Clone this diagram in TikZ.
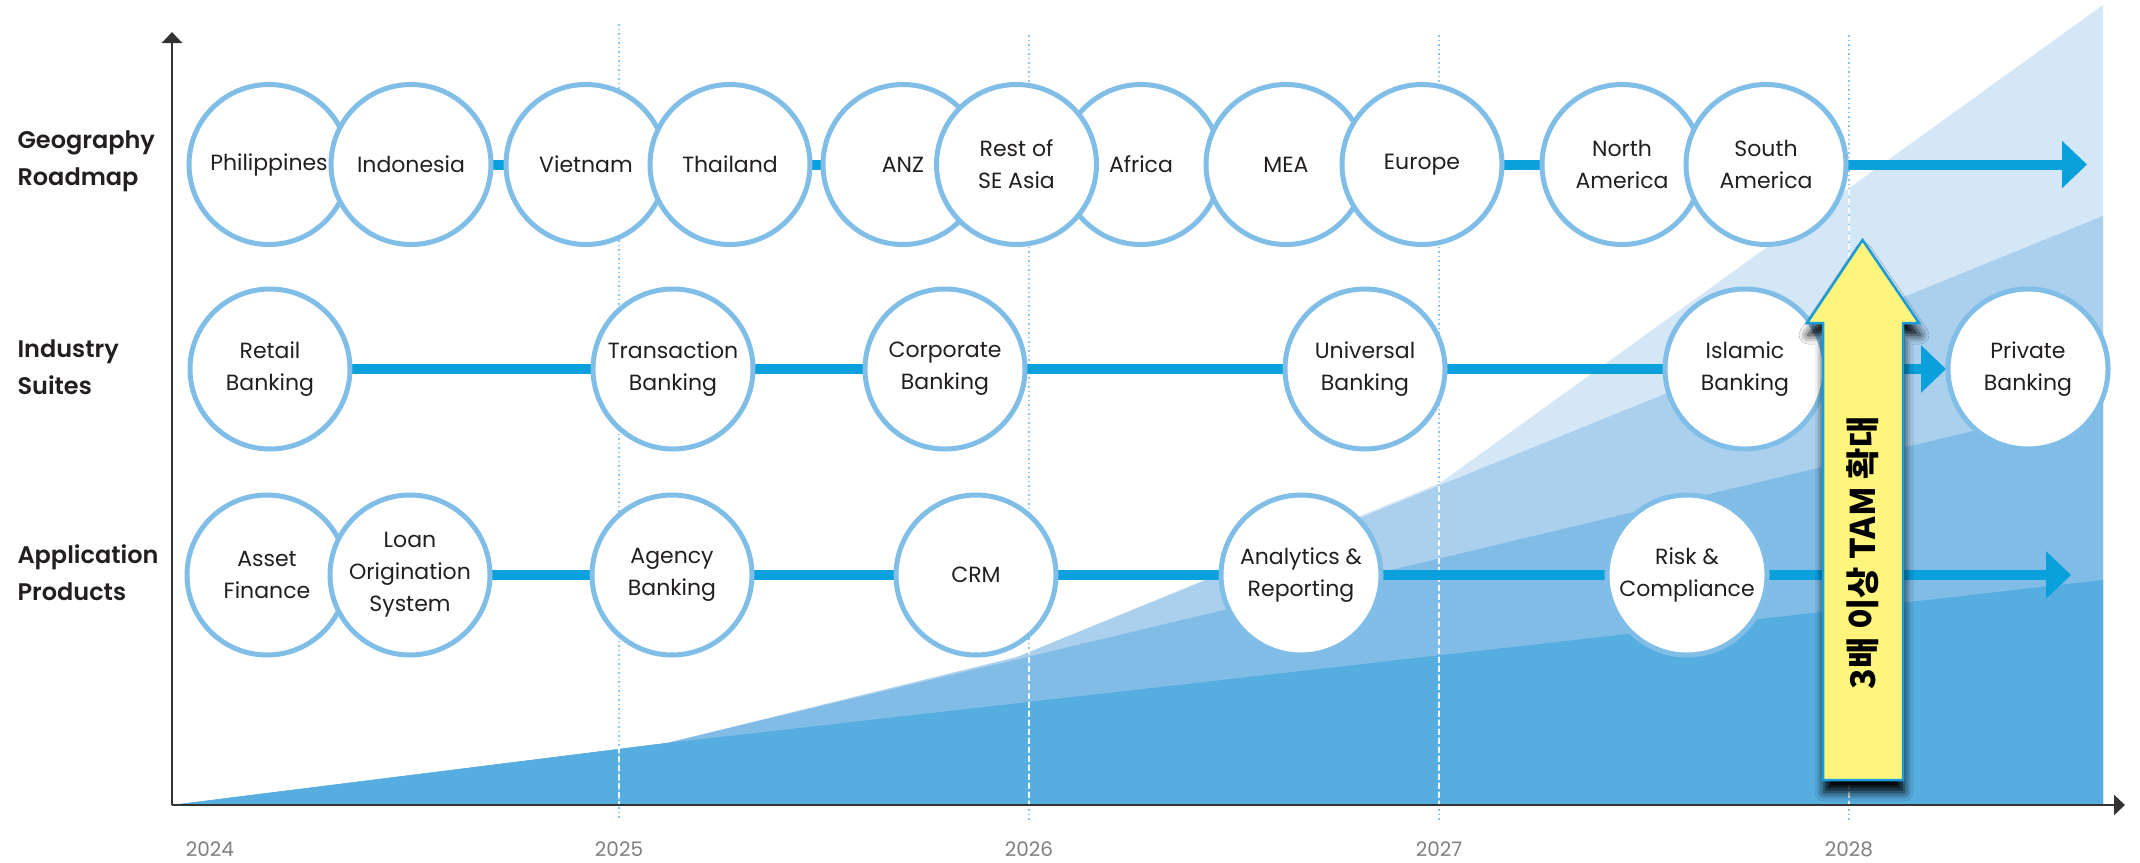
\documentclass[tikz,border=0pt]{standalone}
\usepackage{fontspec}
\setmainfont{Poppins}
\newfontfamily\labfont{Poppins SemiBold}
\newfontfamily\kofont{Noto Sans CJK KR}
\usetikzlibrary{arrows.meta,shadows.blur}
\definecolor{cbl}{HTML}{0AA0DC}
\definecolor{cring}{HTML}{80BEE8}
\definecolor{aone}{HTML}{D4E7F6}
\definecolor{atwo}{HTML}{AAD0ED}
\definecolor{athree}{HTML}{80BCE6}
\definecolor{afour}{HTML}{56AEE0}
\definecolor{txt}{HTML}{231F20}
\definecolor{yel}{HTML}{FFF57C}
\definecolor{ybord}{HTML}{1B9BD7}
\definecolor{axc}{HTML}{333333}
\definecolor{yrc}{HTML}{7F7F7F}
\definecolor{ylc}{HTML}{8DC4EC}
\tikzset{
  bub/.style={circle, draw=cring, line width=5pt, fill=white, minimum size=160pt,
    inner sep=0pt, align=center, font=\fontsize{22}{32}\selectfont, text=txt},
  conn/.style={draw=cbl, line width=10pt},
  connarr/.style={conn, -{Triangle[length=25pt,width=46pt]}},
  lab/.style={anchor=west, align=left, font=\labfont\fontsize{24}{37}\selectfont, text=txt},
  yr/.style={font=\fontsize{20}{24}\selectfont, text=yrc},
  yline/.style={draw=ylc, line width=1.5pt, dash pattern=on 1.5pt off 3pt},
  wline/.style={draw=white, line width=1.5pt, dash pattern=on 6pt off 3pt, opacity=0.9},
  axis/.style={draw=axc, line width=2.5pt},
}
\begin{document}
\begin{tikzpicture}[x=1pt,y=-1pt]
\useasboundingbox (0,0) rectangle (2140,862);
% growth areas
\fill[aone] (172,805) -- (667,743) -- (1017,657) -- (1440,483) -- (2103,5) -- (2103,805) -- cycle;
\fill[atwo] (172,805) -- (667,743) -- (1017,657) -- (2103,216) -- (2103,805) -- cycle;
\fill[athree] (172,805) -- (667,743) -- (2103,400) -- (2103,805) -- cycle;
\fill[afour] (172,805) -- (667,743) -- (2103,580) -- (2103,805) -- cycle;
% year lines
\draw[yline] (619,24) -- (619,820);
\draw[yline] (1029,35) -- (1029,820);
\draw[yline] (1439,35) -- (1439,820);
\draw[yline] (1849,35) -- (1849,820);
\begin{scope}
\clip (172,805) -- (667,743) -- (1017,657) -- (1440,483) -- (2103,5) -- (2103,805) -- cycle;
\draw[wline] (619,0) -- (619,805);
\draw[wline] (1029,0) -- (1029,805);
\draw[wline] (1439,0) -- (1439,805);
\draw[wline] (1849,0) -- (1849,805);
\end{scope}
% axes
\draw[axis, -{Triangle[length=11pt,width=20pt]}] (172,805) -- (2125,805);
\draw[axis, -{Triangle[length=11pt,width=20pt]}] (172,805) -- (172,32);
% years
\node[yr] (y24) at (210,849) {2024};
\node[yr] (y25) at (619,849) {2025};
\node[yr] (y26) at (1029,849) {2026};
\node[yr] (y27) at (1439,849) {2027};
\node[yr] (y28) at (1849,849) {2028};
% row labels
\node[lab] (l1) at (14,161) {Geography\\Roadmap};
\node[lab] (l2) at (14,367) {Industry\\Suites};
\node[lab] (l3) at (14,573) {Application\\Products};
% end coordinates
\coordinate (geoend) at (2087,164.5);
\coordinate (append) at (2071,575);
% row 1 positions for connectors
\path (411,164.5) coordinate (pindo) (586,164.5) coordinate (pviet)
      (730,164.5) coordinate (pthai) (903,164.5) coordinate (panz)
      (1422,164.5) coordinate (peur) (1622,164.5) coordinate (pnam)
      (1766,164.5) coordinate (psam);
\draw[conn] (pindo) -- (pviet);
\draw[conn] (pthai) -- (panz);
\draw[conn] (peur) -- (pnam);
\draw[connarr] (psam) -- (geoend);
% row 2 and 3 positions
\path (270,369) coordinate (pret) (673,369) coordinate (ptra) (945,369) coordinate (pcor)
      (1365,369) coordinate (puni) (1745,369) coordinate (pisl) (2028,369) coordinate (ppri);
\path (267,575) coordinate (pass) (410,575) coordinate (ploa) (672,575) coordinate (page)
      (976,575) coordinate (pcrm) (1301,575) coordinate (pana) (1687,575) coordinate (prisk);
\coordinate (pend2) at (1946,369);
\draw[conn] (pret) -- (puni);
\draw[conn] (puni) -- (pisl);
\draw[connarr] (pisl) -- (pend2);
\draw[conn] (ploa) -- (prisk);
\draw[connarr] (prisk) -- (append);
% row 1 bubbles
\node[bub] (phil) at (269,164.5) {Philippines};
\node[bub] (indo) at (pindo) {Indonesia};
\node[bub] (viet) at (pviet) {Vietnam};
\node[bub] (thai) at (pthai) {Thailand};
\node[bub] (anz) at (panz) {ANZ};
\node[bub] (afr) at (1141,164.5) {Africa};
\node[bub] (rest) at (1016.5,164.5) {Rest of\\SE Asia};
\node[bub] (mea) at (1286,164.5) {MEA};
\node[bub] (eur) at (peur) {Europe};
\node[bub] (nam) at (pnam) {North\\America};
\node[bub] (sam) at (psam) {South\\America};
% row 2 bubbles
\node[bub] (ret) at (pret) {Retail\\Banking};
\node[bub] (tra) at (ptra) {Transaction\\Banking};
\node[bub] (cor) at (pcor) {Corporate\\Banking};
\node[bub] (uni) at (puni) {Universal\\Banking};
\node[bub] (isl) at (pisl) {Islamic\\Banking};
\node[bub] (pri) at (ppri) {Private\\Banking};
% row 3 bubbles
\node[bub] (ass) at (pass) {Asset\\Finance};
\node[bub] (loa) at (ploa) {Loan\\Origination\\System};
\node[bub] (age) at (page) {Agency\\Banking};
\node[bub] (crm) at (pcrm) {CRM};
\node[bub] (ana) at (pana) {Analytics \&\\Reporting};
\node[bub] (risk) at (prisk) {Risk \&\\Compliance};
% yellow arrow
\path[fill=yel, draw=ybord, line width=2.5pt, line join=miter,
  blur shadow={shadow xshift=1pt, shadow yshift=-12pt, shadow blur radius=9pt,
    shadow opacity=100}]
  (1823,780) -- (1823,323) -- (1807,323) -- (1862.5,240) -- (1919,323)
  -- (1903,323) -- (1903,780) -- cycle;
\node[rotate=90, font=\kofont\bfseries\fontsize{34}{40}\selectfont, text=black]
  (tam) at (1863,553) {3배 이상 TAM 확대};
\end{tikzpicture}
\end{document}
